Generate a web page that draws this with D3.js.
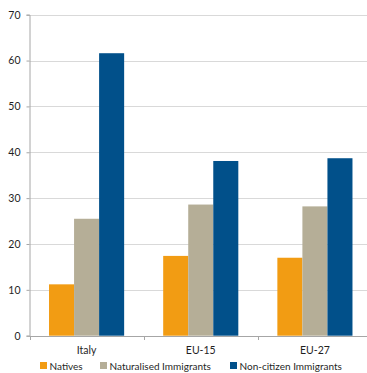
<!DOCTYPE html>
<html>
<head>
<meta charset="utf-8">
<script src="https://cdn.jsdelivr.net/npm/d3@7"></script>
<style>
  html, body { margin: 0; padding: 0; background: #fff; }
  svg { display: block; }
  text { font-family: Lato, "Open Sans", sans-serif; fill: #1f1f1f; }
</style>
</head>
<body>
<svg id="chart" width="367" height="373"></svg>
<script>
// Share of each population group, by area
const categories = ["Italy", "EU-15", "EU-27"];
const seriesNames = ["Natives", "Naturalised Immigrants", "Non-citizen Immigrants"];
const natives = [11.2, 17.4, 17.0];
const naturalised = [25.5, 28.6, 28.2];
const nonCitizen = [61.6, 38.1, 38.7];
const yTicks = [0, 10, 20, 30, 40, 50, 60, 70];
const colors = ["#f29c13", "#b5ae97", "#01508a"];

const series = [natives, naturalised, nonCitizen];

const svg = d3.select("#chart");
const plotLeft = 29.5, plotRight = 372, plotTop = 14.7, plotBottom = 335.7;

const x = d3.scaleBand().domain(categories).range([plotLeft, plotRight])
  .paddingInner(0.342).paddingOuter(0.171);
const xInner = d3.scaleBand().domain(seriesNames).range([0, x.bandwidth()]);
const y = d3.scaleLinear().domain([0, 70]).range([plotBottom, plotTop]);

// Horizontal gridlines
svg.append("g").selectAll("line").data(yTicks.filter(d => d > 0)).join("line")
  .attr("x1", plotLeft).attr("x2", 367)
  .attr("y1", d => Math.round(y(d)) + 0.5).attr("y2", d => Math.round(y(d)) + 0.5)
  .attr("stroke", "#d9d9d9").attr("stroke-width", 1);

// Bars
const groups = svg.append("g").selectAll("g").data(categories).join("g")
  .attr("transform", c => `translate(${x(c)},0)`);
groups.selectAll("rect")
  .data((c, i) => seriesNames.map((s, j) => ({ s, j, v: series[j][i] })))
  .join("rect")
  .attr("x", d => xInner(d.s))
  .attr("width", xInner.bandwidth())
  .attr("y", d => y(d.v))
  .attr("height", d => y(0) - y(d.v))
  .attr("fill", d => colors[d.j]);

// Y axis
const yAxis = svg.append("g").attr("transform", `translate(${plotLeft},0)`)
  .call(d3.axisLeft(y).tickValues(yTicks).tickSize(3).tickPadding(6));
yAxis.select(".domain").attr("stroke", "#a6a6a6");
yAxis.selectAll(".tick line").attr("stroke", "#a6a6a6");
yAxis.selectAll("text").attr("font-size", 10.5).style("fill", "#1f1f1f");

// X axis: baseline with ticks between categories
const xAxisG = svg.append("g");
xAxisG.append("line").attr("x1", plotLeft).attr("x2", 367)
  .attr("y1", Math.round(plotBottom) + 0.5).attr("y2", Math.round(plotBottom) + 0.5)
  .attr("stroke", "#a6a6a6");
const step = x.step();
const boundaries = [0, 1, 2, 3].map(i => plotLeft + i * step);
xAxisG.selectAll("line.tk").data(boundaries).join("line").attr("class", "tk")
  .attr("x1", d => Math.round(d) + 0.5).attr("x2", d => Math.round(d) + 0.5)
  .attr("y1", Math.round(plotBottom)).attr("y2", Math.round(plotBottom) + 4)
  .attr("stroke", "#a6a6a6");
xAxisG.selectAll("text").data(categories).join("text")
  .attr("x", c => x(c) + x.bandwidth() / 2)
  .attr("y", 353.5)
  .attr("text-anchor", "middle")
  .attr("font-size", 10.5)
  .text(c => c);

// Legend
const legendX = [40, 100, 230];
const legend = svg.append("g").selectAll("g").data(seriesNames).join("g")
  .attr("transform", (d, i) => `translate(${legendX[i]},362)`);
legend.append("rect").attr("width", 7).attr("height", 7)
  .attr("fill", (d, i) => colors[i]);
legend.append("text").attr("x", 9.5).attr("y", 7.5)
  .attr("font-size", 10).text(d => d);
</script>
</body>
</html>
